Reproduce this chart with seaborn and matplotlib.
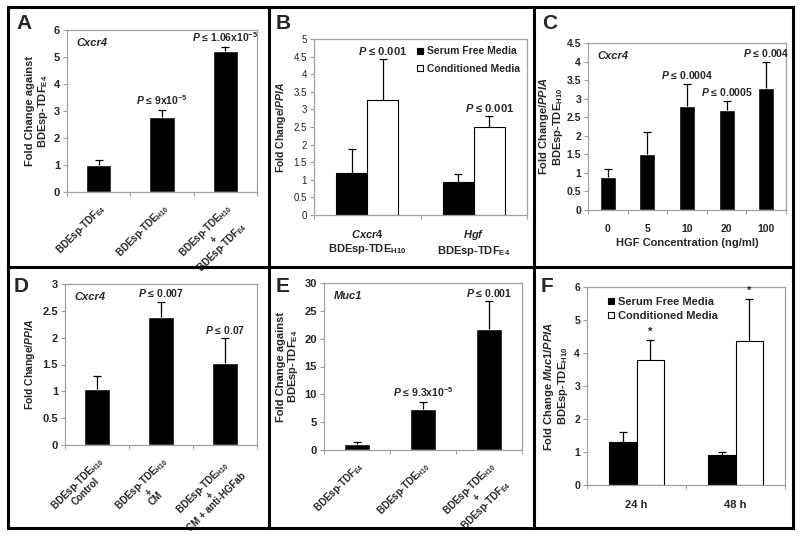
import matplotlib
matplotlib.use("Agg")
import matplotlib.pyplot as plt
import seaborn as sns
import pandas as pd
import numpy as np
from matplotlib.lines import Line2D
from matplotlib.ticker import FuncFormatter

sns.set_theme(style="white")
plt.rcParams["font.family"] = ["Liberation Sans", "DejaVu Sans"]
plt.rcParams["font.weight"] = "bold"
plt.rcParams["axes.labelweight"] = "bold"
plt.rcParams["mathtext.fontset"] = "custom"
plt.rcParams["mathtext.rm"] = "Liberation Sans:bold"
plt.rcParams["mathtext.it"] = "Liberation Sans:italic:bold"
plt.rcParams["mathtext.bf"] = "Liberation Sans:bold"
plt.rcParams["mathtext.sf"] = "Liberation Sans:bold"
plt.rcParams["mathtext.default"] = "rm"

# ---------------- data ----------------
a_keys = ["E4", "H10", "H10+E4"]
a_labels = ["BDEsp-TDF$_{E4}$", "BDEsp-TDE$_{H10}$", "BDEsp-TDE$_{H10}$\n+\nBDEsp-TDF$_{E4}$"]
a_vals = [1.0, 2.79, 5.22]
a_err = [0.18, 0.25, 0.16]
a_p = ["", r"$\mathit{P}$ ≤ 9x10$^{-5}$", r"$\mathit{P}$ ≤ 1.06x10$^{-5}$"]

b_genes = ["Cxcr4", "Hgf"]
b_labels = ["$\\mathit{Cxcr4}$\nBDEsp-TDE$_{H10}$", "$\\mathit{Hgf}$\nBDEsp-TDF$_{E4}$"]
b_media = ["Serum Free Media", "Conditioned Media"]
b_sf_vals = [1.19, 0.95]
b_sf_err = [0.68, 0.21]
b_cm_vals = [3.26, 2.51]
b_cm_err = [1.16, 0.29]
b_p = [r"$\mathit{P}$ ≤ 0.001", r"$\mathit{P}$ ≤ 0.001"]

c_conc = ["0", "5", "10", "20", "100"]
c_vals = [0.9, 1.5, 2.8, 2.7, 3.3]
c_err = [0.2, 0.6, 0.6, 0.25, 0.7]
c_p = ["", "", r"$\mathit{P}$ ≤ 0.0004", r"$\mathit{P}$ ≤ 0.0005", r"$\mathit{P}$ ≤ 0.004"]

d_keys = ["Control", "CM", "CM+anti"]
d_labels = ["BDEsp-TDE$_{H10}$\nControl", "BDEsp-TDE$_{H10}$\n+\nCM",
            "BDEsp-TDE$_{H10}$\n+\nCM + anti-HGFab"]
d_vals = [1.05, 2.38, 1.52]
d_err = [0.24, 0.29, 0.47]
d_p = ["", r"$\mathit{P}$ ≤ 0.007", r"$\mathit{P}$ ≤ 0.07"]

e_keys = ["E4", "H10", "H10+E4"]
e_labels = a_labels
e_vals = [1.05, 7.4, 21.7]
e_err = [0.4, 1.3, 5.0]
e_p = ["", r"$\mathit{P}$ ≤ 9.3x10$^{-5}$", r"$\mathit{P}$ ≤ 0.001"]

f_times = ["24 h", "48 h"]
f_sf_vals = [1.31, 0.91]
f_sf_err = [0.3, 0.1]
f_cm_vals = [3.8, 4.35]
f_cm_err = [0.6, 1.3]
f_p = ["*", "*"]

# ---------------- figure ----------------
W, H = 800, 537
fig = plt.figure(figsize=(W / 100, H / 100), dpi=100)


def px_axes(x0, x1, y0, y1):
    return fig.add_axes([x0 / W, 1 - y1 / H, (x1 - x0) / W, (y1 - y0) / H])


GRAY = "#a0a0a0"
PAL = {"Serum Free Media": "black", "Conditioned Media": "white"}


def style(ax, n, ymax, ystep, tick_fs=8, tick_weight="bold"):
    ax.set_ylim(0, ymax)
    ax.set_yticks(np.arange(0, ymax + ystep / 2, ystep))
    ax.yaxis.set_major_formatter(FuncFormatter(lambda v, p: f"{v:g}"))
    for s in ax.spines.values():
        s.set_color(GRAY)
        s.set_linewidth(0.9)
    ax.tick_params(axis="y", left=True, length=3, width=0.8, color=GRAY, pad=2,
                   labelsize=tick_fs)
    for t in ax.get_yticklabels():
        t.set_fontweight(tick_weight)
    ax.tick_params(axis="x", which="major", bottom=False, pad=1)
    ax.set_xticks(np.arange(-0.5, n), minor=True)
    ax.tick_params(axis="x", which="minor", bottom=True, length=3, width=0.8, color=GRAY)
    ax.set_xlim(-0.5, n - 0.5)
    ax.set_xlabel("")


def errs(ax, container, err, ptexts=None, ymax=1, fs=7.5):
    xs = [p.get_x() + p.get_width() / 2 for p in container]
    ys = [p.get_height() for p in container]
    eb = ax.errorbar(xs, ys, yerr=[np.zeros(len(err)), err], fmt="none", ecolor="black",
                     elinewidth=0.9, capsize=3, capthick=0.9, zorder=3)
    caps = eb[1]
    if len(caps) == 2:
        caps[0].set_visible(False)
    if ptexts:
        for x, y, e, t in zip(xs, ys, err, ptexts):
            if t:
                ax.text(x, y + e + ymax * 0.015, t, ha="center", va="bottom",
                        fontsize=fs, fontweight="bold")


def gene(ax, name):
    ax.text(0.05, 0.95, name, transform=ax.transAxes, ha="left", va="top",
            fontsize=8, fontweight="bold", fontstyle="italic")


rot_kw = dict(rotation=45, ha="right", rotation_mode="anchor", multialignment="center",
              fontsize=7, fontweight="bold", linespacing=0.92)

# ---- A ----
axA = px_axes(67, 257, 30, 192)
dfA = pd.DataFrame({"cat": a_keys, "val": a_vals})
sns.barplot(data=dfA, x="cat", y="val", color="black", saturation=1, width=0.4,
            errorbar=None, ax=axA)
style(axA, 3, 6, 1)
errs(axA, axA.containers[0], a_err, a_p, 6)
axA.set_xticks(range(3))
axA.set_xticklabels(a_labels, **rot_kw)
axA.set_ylabel("Fold Change against\nBDEsp-TDF$_{E4}$", fontsize=8, labelpad=3,
               linespacing=1.05)
gene(axA, "Cxcr4")

# ---- B ----
axB = px_axes(314, 527, 39, 215)
dfB = pd.DataFrame({
    "gene": b_genes * 2,
    "media": [b_media[0]] * 2 + [b_media[1]] * 2,
    "val": b_sf_vals + b_cm_vals,
})
sns.barplot(data=dfB, x="gene", y="val", hue="media", hue_order=b_media, palette=PAL,
            saturation=1, edgecolor="black", linewidth=0.8, width=0.58, errorbar=None,
            legend=False, ax=axB)
style(axB, 2, 5, 0.5, tick_fs=7, tick_weight="normal")
errs(axB, axB.containers[0], b_sf_err)
errs(axB, axB.containers[1], b_cm_err, b_p, 5, fs=8)
axB.set_xticks(range(2))
axB.set_xticklabels(b_labels, fontsize=8, fontweight="bold", linespacing=1.25)
axB.tick_params(axis="x", which="major", pad=3)
axB.set_ylabel("Fold Change/$\\mathit{PPIA}$", fontsize=7.5, labelpad=4)
hB = [Line2D([], [], marker="s", ls="none", mfc=PAL[m], mec="black", ms=5, mew=0.8)
      for m in b_media]
axB.legend(hB, b_media, loc="upper right", frameon=False,
           handlelength=0.8, handletextpad=0.2, labelspacing=0.75,
           borderaxespad=0.3, borderpad=0.4,
           bbox_to_anchor=(1.0, 1.0), prop={"weight": "bold", "size": 7.5})

# ---- C ----
axC = px_axes(588, 786, 43, 210)
dfC = pd.DataFrame({"conc": c_conc, "val": c_vals})
sns.barplot(data=dfC, x="conc", y="val", color="black", saturation=1, width=0.4,
            errorbar=None, ax=axC)
style(axC, 5, 4.5, 0.5, tick_fs=7.5)
errs(axC, axC.containers[0], c_err, c_p, 4.5)
axC.set_xticks(range(5))
axC.set_xticklabels(c_conc, fontsize=7.5, fontweight="bold")
axC.tick_params(axis="x", which="major", pad=4)
axC.set_xlabel("HGF Concentration (ng/ml)", fontsize=8, fontweight="bold", labelpad=3)
axC.set_ylabel("Fold Change/$\\mathit{PPIA}$\nBDEsp-TDE$_{H10}$", fontsize=8,
               labelpad=1, linespacing=1.0)
gene(axC, "Cxcr4")

# ---- D ----
axD = px_axes(65, 257, 284, 445)
dfD = pd.DataFrame({"cat": d_keys, "val": d_vals})
sns.barplot(data=dfD, x="cat", y="val", color="black", saturation=1, width=0.4,
            errorbar=None, ax=axD)
style(axD, 3, 3, 0.5)
errs(axD, axD.containers[0], d_err, d_p, 3)
axD.set_xticks(range(3))
axD.set_xticklabels(d_labels, **rot_kw)
axD.set_ylabel("Fold Change/$\\mathit{PPIA}$", fontsize=7.5, labelpad=4)
gene(axD, "Cxcr4")

# ---- E ----
axE = px_axes(324, 522, 283, 450)
dfE = pd.DataFrame({"cat": e_keys, "val": e_vals})
sns.barplot(data=dfE, x="cat", y="val", color="black", saturation=1, width=0.4,
            errorbar=None, ax=axE)
style(axE, 3, 30, 5)
errs(axE, axE.containers[0], e_err, e_p, 30)
axE.set_xticks(range(3))
axE.set_xticklabels(e_labels, **rot_kw)
axE.set_ylabel("Fold Change against\nBDEsp-TDF$_{E4}$", fontsize=8, labelpad=3,
               linespacing=1.05)
gene(axE, "Muc1")

# ---- F ----
axF = px_axes(587, 785, 287, 485)
dfF = pd.DataFrame({
    "time": f_times * 2,
    "media": [b_media[0]] * 2 + [b_media[1]] * 2,
    "val": f_sf_vals + f_cm_vals,
})
sns.barplot(data=dfF, x="time", y="val", hue="media", hue_order=b_media, palette=PAL,
            saturation=1, edgecolor="black", linewidth=0.8, width=0.56, errorbar=None,
            legend=False, ax=axF)
style(axF, 2, 6, 1, tick_fs=7.5)
errs(axF, axF.containers[0], f_sf_err)
errs(axF, axF.containers[1], f_cm_err, f_p, 6, fs=8)
axF.set_xticks(range(2))
axF.set_xticklabels(f_times, fontsize=8, fontweight="bold")
axF.tick_params(axis="x", which="major", pad=5)
axF.set_ylabel("Fold Change $\\mathit{Muc1/PPIA}$\nBDEsp-TDE$_{H10}$", fontsize=8,
               labelpad=3, linespacing=1.0)
hF = [Line2D([], [], marker="s", ls="none", mfc=PAL[m], mec="black", ms=5, mew=0.8)
      for m in b_media]
axF.legend(hF, b_media, loc="upper left", frameon=False,
           handlelength=0.8, handletextpad=0.2, labelspacing=0.4,
           borderaxespad=0.2, borderpad=0.3,
           bbox_to_anchor=(0.07, 0.98), prop={"weight": "bold", "size": 8})

# ---- panel letters ----
for letter, (x, y) in zip("ABCDEF", [(16, 14), (276, 14), (542, 14),
                                      (14, 277), (276, 277), (541, 277)]):
    fig.text(x / W, 1 - y / H, letter, ha="left", va="top", fontsize=15,
             fontweight="bold")

# ---- panel borders ----
def fline(x0, y0, x1, y1, lw=2.2):
    fig.add_artist(Line2D([x0 / W, x1 / W], [1 - y0 / H, 1 - y1 / H], color="black",
                          lw=lw, transform=fig.transFigure, solid_capstyle="projecting"))

L, R, T, B = 7.5, 792.5, 6.5, 527.5
fline(L, T, R, T)
fline(L, B, R, B)
fline(L, T, L, B)
fline(R, T, R, B)
fline(269, T, 269, B)
fline(534, T, 534, B)
fline(L, 267, R, 267)

fig.savefig("out.png", dpi=100)
